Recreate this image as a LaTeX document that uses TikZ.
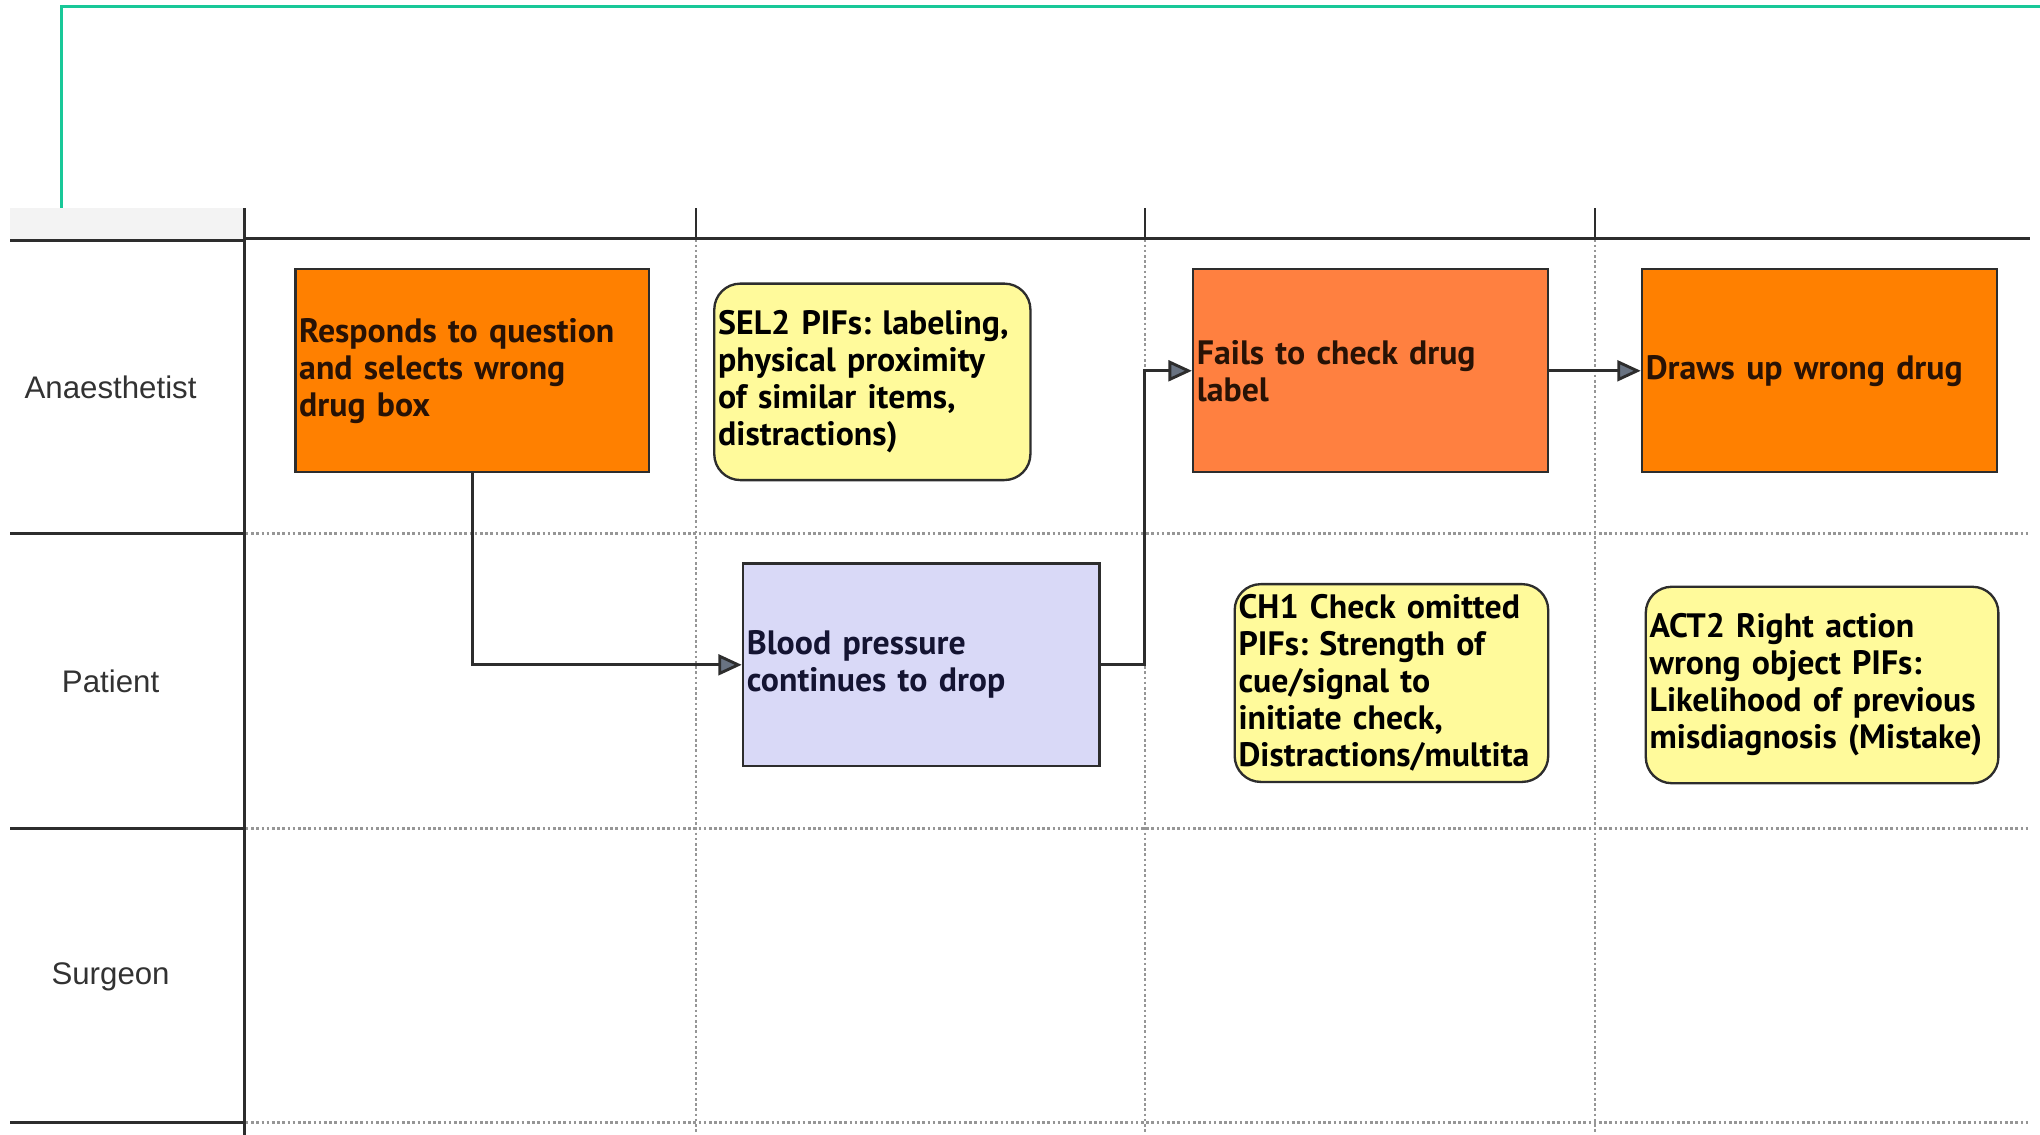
\documentclass[tikz,border=0pt]{standalone}
\usepackage{fontspec}
\setmainfont{PT Sans}
\newfontfamily\lanefont{Liberation Sans}
\usetikzlibrary{arrows.meta}
\frenchspacing
\definecolor{accent}{RGB}{24,200,152}
\definecolor{headgray}{RGB}{243,243,243}
\definecolor{rule}{RGB}{45,45,45}
\definecolor{gridgray}{RGB}{150,150,150}
\definecolor{actorange}{RGB}{255,128,0}
\definecolor{actcoral}{RGB}{255,128,64}
\definecolor{stateblue}{RGB}{217,217,247}
\definecolor{pifyellow}{RGB}{255,250,155}
\definecolor{tipfill}{RGB}{105,115,130}
\definecolor{labeltext}{RGB}{50,50,50}
\begin{document}
\begin{tikzpicture}[x=0.5pt,y=-0.5pt,
  lanelabel/.style={font=\lanefont\fontsize{12}{14}\selectfont, text=labeltext},
  solidrule/.style={draw=rule, line width=1.1pt},
  gridline/.style={draw=gridgray, line width=1pt, densely dotted},
  box/.style={draw=rule, line width=0.9pt, inner xsep=1.5pt, inner ysep=0pt,
    align=left, font=\bfseries\fontsize{13}{14.2}\selectfont},
  actbox/.style={box, fill=actorange, text={rgb,255:red,40;green,18;blue,5}},
  pifbox/.style={box, fill=pifyellow, rounded corners=10pt, text=black},
  statebox/.style={box, fill=stateblue, text={rgb,255:red,20;green,20;blue,50}},
  conn/.style={draw=rule, line width=1.1pt,
    -{Triangle[length=9pt,width=8pt,fill=tipfill]}}
]
\useasboundingbox (0,0) rectangle (1568,872);

% accent frame
\draw[accent, line width=1.2pt] (47,160) -- (47,5) -- (1568,5);

% header band of the lane-label column
\fill[headgray] (8,160) rectangle (188,184);

% grid: dotted lane and column separators
\foreach \yy in {410,637,863}
  \draw[gridline] (189,\yy) -- (1560,\yy);
\foreach \xx in {535,880,1226}
  \draw[gridline] (\xx,184) -- (\xx,872);

% solid frame lines
\draw[solidrule] (8,185) -- (188,185);
\draw[solidrule] (188,160) -- (188,872);
\draw[solidrule] (189,183) -- (1560,183);
\foreach \xx in {535,880,1226}
  \draw[solidrule, line width=0.9pt] (\xx,160) -- (\xx,183);
\foreach \yy in {410,637,863}
  \draw[solidrule] (8,\yy) -- (188,\yy);

\coordinate (col3) at (880,184);

% lane labels
\node[lanelabel] (laneA) at (85,298) {Anaesthetist};
\node[lanelabel] (laneP) at (85,524) {Patient};
\node[lanelabel] (laneS) at (85,751) {Surgeon};

% tasks and factors
\node[actbox, text width=133pt, minimum height=78pt] (b1) at (363,285)
  {Responds to question\\and selects wrong\\drug box};
\node[pifbox, text width=118.5pt, minimum height=75.5pt] (b2) at (670.5,293.5)
  {SEL2 PIFs: labeling,\\physical proximity\\of similar items,\\distractions)};
\node[actbox, fill=actcoral, text width=133.5pt, minimum height=78pt] (b3) at (1053.5,285)
  {Fails to check drug\\label};
\node[actbox, text width=133.5pt, minimum height=78pt] (b4) at (1398.5,285)
  {Draws up wrong drug};
\node[statebox, text width=134pt, minimum height=78pt] (b5) at (708,511)
  {Blood pressure\\continues to drop};
\node[pifbox, text width=117.5pt, minimum height=76pt] (b6) at (1069.5,525)
  {CH1 Check omitted\\PIFs: Strength of\\cue/signal to\\initiate check,\\Distractions/multita};
\node[pifbox, text width=132.5pt, minimum height=75.5pt] (b7) at (1400.5,526.5)
  {ACT2 Right action\\wrong object PIFs:\\Likelihood of previous\\misdiagnosis (Mistake)};

% flow
\draw[conn] (b1.south) |- (b5.west);
\draw[conn] (b5.east) -- (b5.east -| col3) |- (b3.west);
\draw[conn] (b3.east) -- (b4.west);
\end{tikzpicture}
\end{document}
